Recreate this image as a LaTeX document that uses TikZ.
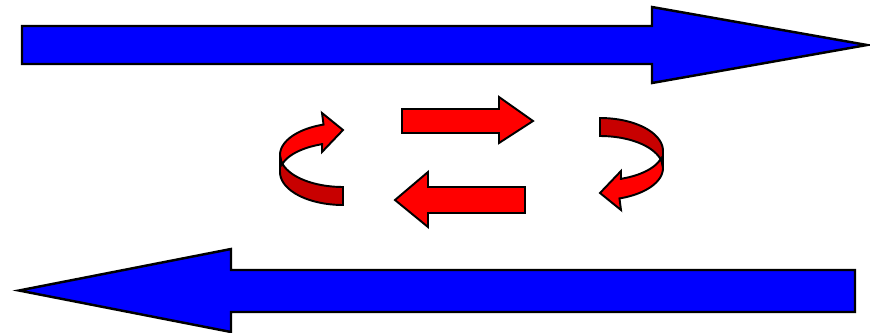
\documentclass[tikz,border=0pt]{standalone}
\usetikzlibrary{calc}
\definecolor{arrblue}{RGB}{0,0,255}
\definecolor{arrred}{RGB}{255,0,0}
\definecolor{arrdark}{RGB}{200,0,0}
\begin{document}
\begin{tikzpicture}[x=0.02cm,y=-0.02cm,
  bluearrow/.style={fill=arrblue,draw=black,line width=1.4pt,line join=miter},
  redarrow/.style={fill=arrred,draw=black,line width=1.1pt,line join=miter},
  darkband/.style={fill=arrdark,draw=black,line width=1.1pt,line join=miter}]
\useasboundingbox (0,0) rectangle (870,332);
% top blue arrow
\draw[bluearrow] (22,26) -- (652,26) -- (652,7) -- (867,45) -- (652,83) -- (652,64) -- (22,64) -- cycle;
% bottom blue arrow
\draw[bluearrow] (855,270) -- (231,270) -- (231,249) -- (19,290.5) -- (231,332) -- (231,312) -- (855,312) -- cycle;
% upper red straight arrow
\draw[redarrow] (402,109) -- (499,109) -- (499,97) -- (533,121) -- (499,143) -- (499,133) -- (402,133) -- cycle;
% lower red straight arrow
\draw[redarrow] (525,187) -- (428,187) -- (428,172) -- (395,200) -- (428,227) -- (428,213) -- (525,213) -- cycle;
% left curved arrow
\newcommand{\curvedarrow}{%
  \draw[darkband] plot[domain=90:180,samples=25] ({343+63*cos(\x)},{155+32*sin(\x)})
     -- (280,172)
     -- plot[domain=180:90,samples=25] ({343+63*cos(\x)},{172+33*sin(\x)})
     -- cycle;
  \draw[redarrow] plot[domain=180:252,samples=25] ({343+63*cos(\x)},{155+32*sin(\x)})
     -- (322,113) -- (343,130) -- (322,152) -- (322,144)
     -- plot[domain=251.5:194.5,samples=25] ({343+63*cos(\x)},{172+29.5*sin(\x)})
     -- cycle;}
\curvedarrow
% right curved arrow (point reflection of the left one)
\begin{scope}[rotate around={180:(471.5,161.5)}]
\curvedarrow
\end{scope}
\end{tikzpicture}
\end{document}
